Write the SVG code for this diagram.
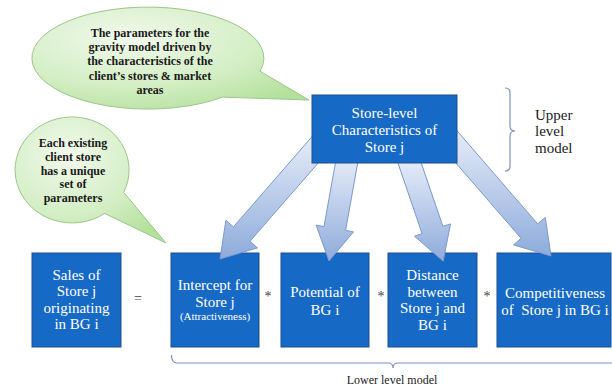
<svg xmlns="http://www.w3.org/2000/svg" width="612" height="389" viewBox="0 0 612 389">
<defs>
<linearGradient id="arrowGrad" x1="0" y1="0" x2="0" y2="1">
<stop offset="0" stop-color="#eef2fa"/>
<stop offset="1" stop-color="#8eabdc"/>
</linearGradient>
<radialGradient id="bubbleGrad" cx="0.35" cy="0.3" r="0.8">
<stop offset="0" stop-color="#f1f9ec"/>
<stop offset="0.6" stop-color="#d3eec4"/>
<stop offset="1" stop-color="#b3e09b"/>
</radialGradient>
<style>
.box{fill:#1769c6;stroke:#1d4f91;stroke-width:1}
.arrow{fill:url(#arrowGrad);stroke:#7c98cc;stroke-width:1}
.bubble{fill:url(#bubbleGrad);stroke:#9cc68a;stroke-width:1}
.bt{font-family:"Liberation Serif","DejaVu Serif",serif;font-weight:bold;font-size:12px;fill:#1a1a1a;text-anchor:middle}
.wt{font-family:"Liberation Serif","DejaVu Serif",serif;font-size:15px;fill:#ffffff;text-anchor:middle}
.st{font-family:"Liberation Serif","DejaVu Serif",serif;font-size:11px;fill:#ffffff;text-anchor:middle}
.op{font-family:"Liberation Serif","DejaVu Serif",serif;font-size:14px;fill:#444;text-anchor:middle}
.lab{font-family:"Liberation Serif","DejaVu Serif",serif;font-size:15px;fill:#222}
.brace{fill:none;stroke:#7b93bd;stroke-width:1.2}
</style>
</defs>
<rect width="612" height="389" fill="#ffffff"/>

<g id="bubble-params">
<path class="bubble" d="M 260,71.2 A 116 51 0 1 0 222.6,97.1 L 309,100 Z"/>
<text class="bt" x="150" y="37">The parameters for the</text>
<text class="bt" x="150" y="51">gravity model driven by</text>
<text class="bt" x="150" y="65">the characteristics of the</text>
<text class="bt" x="150" y="80">client’s stores &amp; market</text>
<text class="bt" x="150" y="94">areas</text>
</g>

<g id="bubble-unique">
<path class="bubble" d="M 123.7,192.4 A 57 53 0 1 0 104.7,213.4 L 166,243 Z"/>
<text class="bt" x="73" y="147">Each existing</text>
<text class="bt" x="73" y="161">client store</text>
<text class="bt" x="73" y="175">has a unique</text>
<text class="bt" x="73" y="188">set of</text>
<text class="bt" x="73" y="202">parameters</text>
</g>

<g id="sales">
<rect class="box" x="32" y="253" width="89" height="94"/>
<text class="wt" x="76.5" y="280">Sales of</text>
<text class="wt" x="76.5" y="296">Store j</text>
<text class="wt" x="76.5" y="313">originating</text>
<text class="wt" x="76.5" y="329">in BG i</text>
</g>

<g id="intercept">
<rect class="box" x="171" y="253" width="88" height="94"/>
<text class="wt" x="215" y="290">Intercept for</text>
<text class="wt" x="215" y="307">Store j</text>
<text class="st" x="215" y="320">(Attractiveness)</text>
</g>

<g id="potential">
<rect class="box" x="281" y="253" width="88" height="94"/>
<text class="wt" x="325" y="297">Potential of</text>
<text class="wt" x="325" y="315">BG i</text>
</g>

<g id="distance">
<rect class="box" x="388" y="253" width="89" height="94"/>
<text class="wt" x="432.5" y="280">Distance</text>
<text class="wt" x="432.5" y="297">between</text>
<text class="wt" x="432.5" y="313">Store j and</text>
<text class="wt" x="432.5" y="330">BG i</text>
</g>

<g id="competitiveness">
<rect class="box" x="497" y="253" width="114" height="94"/>
<text class="wt" x="555" y="298">Competitiveness</text>
<text class="wt" x="555" y="315" xml:space="preserve">of  Store j in BG i</text>
</g>

<g id="operators">
<text class="op" x="138" y="303">=</text>
<text class="op" x="268" y="301">*</text>
<text class="op" x="381" y="301">*</text>
<text class="op" x="487" y="301">*</text>
</g>

<g id="connectors">
<polygon class="arrow" points="322.1,125.1 233.4,226.9 225.9,220.3 220,259 257.5,247.9 250.0,241.3 338.7,139.5"/>
<polygon class="arrow" points="338.1,147.9 324.0,226.6 316.1,225.1 329,261 353.5,231.9 345.6,230.4 359.7,151.7"/>
<polygon class="arrow" points="396.2,157.9 422.1,233.6 414.5,236.2 443.2,261.2 450.5,223.9 442.9,226.4 417.0,150.7"/>
<polygon class="arrow" points="429.4,132.5 521.1,238.3 513.5,244.9 551,256 545.3,217.4 537.7,223.9 446.0,118.1"/>
</g>

<g id="store-level">
<rect class="box" x="312" y="95" width="145" height="68"/>
<text class="wt" x="384.5" y="118">Store-level</text>
<text class="wt" x="384.5" y="135">Characteristics of</text>
<text class="wt" x="384.5" y="152">Store j</text>
</g>

<g id="upper-level">
<path class="brace" d="M 505,88 Q 510,88 510,93 L 510,126 Q 510,131 515,131 Q 510,131 510,136 L 510,166 Q 510,171 505,171"/>
<text class="lab" x="535" y="120">Upper</text>
<text class="lab" x="535" y="136">level</text>
<text class="lab" x="535" y="153">model</text>
</g>

<g id="lower-level">
<path class="brace" d="M 171.5,355 Q 171.5,363 177,363 L 388,363 Q 393,363 393,368 Q 393,363 398,363 L 612,363"/>
<text class="lab" x="392" y="384" text-anchor="middle" style="font-size:12px">Lower level model</text>
</g>
</svg>
